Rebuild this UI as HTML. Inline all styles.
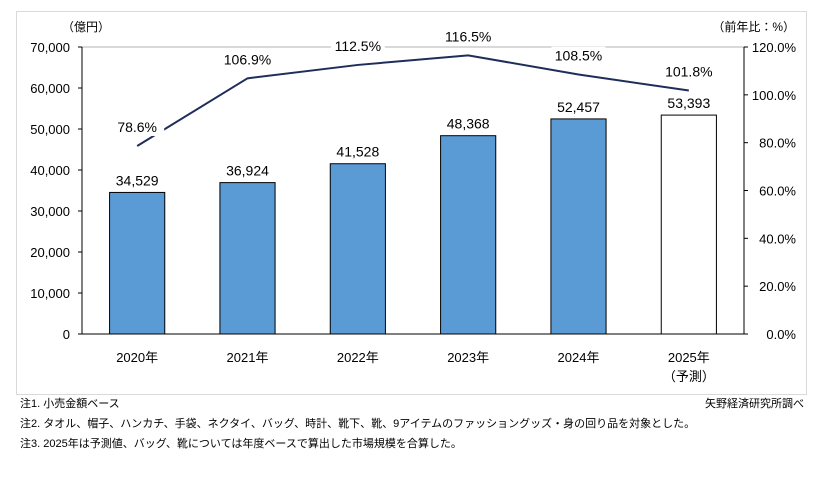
<!DOCTYPE html>
<html><head><meta charset="utf-8">
<style>
body{margin:0;background:#fff;width:819px;height:480px;overflow:hidden;font-family:"Liberation Sans","Noto Sans CJK JP",sans-serif;}
svg text{font-family:"Liberation Sans","Noto Sans CJK JP",sans-serif;}
</style></head>
<body>
<svg id="chart" width="819" height="480">
<rect x="16.5" y="11.5" width="790" height="383" fill="#fff" stroke="#d9d9d9"/>
<g id="grid"></g><g id="bars"></g><g id="line"></g><g id="labels"></g><g id="axes"></g>
<text x="62" y="31" font-size="12" fill="#000">（億円）</text>
<text x="795" y="31" font-size="12" text-anchor="end" fill="#000">（前年比：%）</text>
<text x="20" y="407" font-size="11">注1.  小売金額ベース</text>
<text x="20" y="427" font-size="11">注2.  タオル、帽子、ハンカチ、手袋、ネクタイ、バッグ、時計、靴下、靴、9アイテムのファッショングッズ・身の回り品を対象とした。</text>
<text x="20" y="447" font-size="11">注3.  2025年は予測値、バッグ、靴については年度ベースで算出した市場規模を合算した。</text>
<text x="804" y="407" font-size="11" text-anchor="end">矢野経済研究所調べ</text>
</svg>
<script>
const categories=["2020年","2021年","2022年","2023年","2024年","2025年"];
const sales=[34529,36924,41528,48368,52457,53393];
const growth=[78.6,106.9,112.5,116.5,108.5,101.8];
const leftTicks=[0,10000,20000,30000,40000,50000,60000,70000];
const rightTicks=[0,20,40,60,80,100,120];
const NS="http://www.w3.org/2000/svg";
const L=82,R=744,T=47,B=334;
const bw=(R-L)/categories.length;
const yL=v=>B-v/70000*(B-T);
const yR=v=>B-v/120*(B-T);
const xC=i=>L+bw*(i+0.5);
function mk(tag,attrs,parent,txt){const e=document.createElementNS(NS,tag);for(const k in attrs)e.setAttribute(k,attrs[k]);if(txt!==undefined)e.textContent=txt;document.getElementById(parent).appendChild(e);return e;}
let g=mk('line',{x1:L,x2:R,y1:T,y2:T,stroke:'#d9d9d9','stroke-width':2},'grid');


sales.forEach((v,i)=>{
  const w=bw*0.5,x=xC(i)-w/2,y=yL(v);
  const last=i===sales.length-1;
  const r=mk('rect',{x:x,y:y,width:w,height:B-y,fill:last?'#fff':'#5b9bd5',stroke:'#000','stroke-width':1},'bars');
  
  
  const t=mk('text',{x:xC(i),y:y-7,'font-size':14,'text-anchor':'middle',fill:'#000'},'labels',v.toLocaleString('en-US'));
  
  
  const c=mk('text',{x:xC(i),y:B+28,'font-size':13,'text-anchor':'middle'},'labels',categories[i]);
  
  
});
const p=mk('polyline',{points:growth.map((v,i)=>xC(i)+','+yR(v)).join(' '),fill:'none',stroke:'#1f2d5a','stroke-width':2},'line');


growth.forEach((v,i)=>{
  const y=yR(v)-14;
  const bg=mk('rect',{x:xC(i)-27,y:y-14,width:54,height:18,fill:'#fff'},'labels');
  
  
  const t=mk('text',{x:xC(i),y:y,'font-size':14,'text-anchor':'middle'},'labels',v.toFixed(1)+'%');
  
  
});
const ax=[[L,T,L,B],[R,T,R,B],[L,B,R,B]];
ax.forEach((a,k)=>{const l=mk('line',{x1:a[0],y1:a[1],x2:a[2],y2:a[3],stroke:'#000','stroke-width':1},'axes');

});
const fc=mk('text',{x:xC(5),y:B+47,'font-size':13,'text-anchor':'middle'},'labels','（予測）');


leftTicks.forEach(v=>{const y=yL(v);
  const tk=mk('line',{x1:L-4,x2:L,y1:y,y2:y,stroke:'#000'},'axes');
  
  
  const t=mk('text',{x:L-12,y:y+5,'font-size':13,'text-anchor':'end'},'axes',v.toLocaleString('en-US'));
  
  });
rightTicks.forEach(v=>{const y=yR(v);
  const tk=mk('line',{x1:R,x2:R+4,y1:y,y2:y,stroke:'#000'},'axes');
  
  
  const t=mk('text',{x:R+52,y:y+5,'font-size':13,'text-anchor':'end'},'axes',v.toFixed(1)+'%');
  
  });
</script>
</body></html>
